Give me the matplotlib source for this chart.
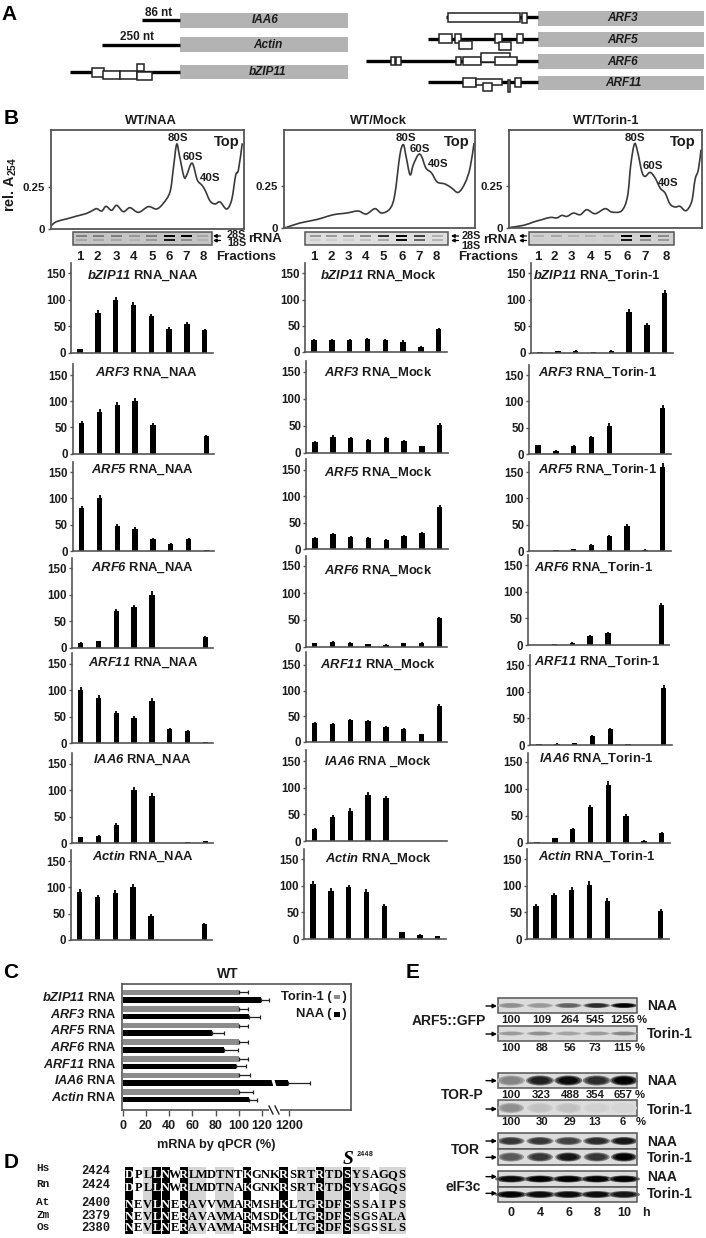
import numpy as np
import matplotlib
matplotlib.use("Agg")
import matplotlib.pyplot as plt
from matplotlib.patches import Rectangle, Ellipse, Polygon, PathPatch
from matplotlib.path import Path

plt.rcParams['font.family'] = ['Liberation Sans', 'DejaVu Sans']
plt.rcParams['font.weight'] = 'bold'
plt.rcParams['mathtext.fontset'] = 'custom'
plt.rcParams['mathtext.rm'] = 'Liberation Sans:bold'
plt.rcParams['mathtext.it'] = 'Liberation Sans:italic:bold'
plt.rcParams['mathtext.bf'] = 'Liberation Sans:bold'
plt.rcParams['mathtext.bfit'] = 'Liberation Sans:italic:bold'

W, H = 706, 1238
INK = "#1c1c1c"
LINE = "#555555"

# -------------------------------
# Panel B: polysome profiles (position along gradient in %, rel. A254)
# -------------------------------
naa_pos = [0, 2.9, 8.1, 13.3, 18.5, 21.9, 23.7, 26.3, 28.5, 31.4, 34, 37.5, 40.9, 45.3, 50.4, 54.7,
           58.2, 61.7, 63.4, 65.1, 66.5, 68.9, 70.3, 72.4, 73.7, 75.8, 78.1, 79.8, 82.4, 85, 87.6,
           91, 93.6, 95.7, 97.1, 99.1]
naa_a254 = [.02, .044, .06, .077, .093, .113, .121, .107, .135, .111, .141, .103, .127, .099, .133, .119,
            .153, .222, .361, .504, .44, .311, .321, .385, .381, .292, .262, .232, .167, .149, .161,
            .119, .173, .321, .351, .51]
mock_pos = [0, 1.4, 8.4, 17, 25.9, 32.8, 38.8, 43, 47.6, 51.1, 55.5, 58, 60.7, 62.5, 63.9, 66, 67.7,
            70.3, 72, 74.3, 77.3, 80.2, 84.3, 87.8, 91.3, 94.8, 97.4, 99.5]
mock_a254 = [.002, .004, .03, .05, .079, .089, .101, .083, .115, .089, .115, .198, .436, .496, .427, .317, .377,
             .436, .427, .357, .327, .274, .262, .238, .212, .268, .357, .506]
torin_pos = [0.7, 7.6, 12.8, 17.1, 21.4, 24.8, 27.4, 30, 33.4, 36.9, 40.3, 44.6, 49.8, 53.3, 58.4, 61.4,
             63.1, 65, 66.6, 68.8, 70.5, 73.1, 75.7, 78.3, 80.9, 83.4, 86, 88.6, 91.7, 94.7, 96.4, 98.1, 99.5]
torin_a254 = [.004, .016, .036, .05, .063, .06, .075, .069, .089, .079, .109, .085, .115, .095, .103, .188,
              .377, .5, .456, .337, .307, .331, .298, .238, .208, .143, .125, .129, .103, .159, .288, .347, .466]

# -------------------------------
# Panel B: fraction bars (% of max), one list per gene and treatment
# -------------------------------
genes = ["bZIP11", "ARF3", "ARF5", "ARF6", "ARF11", "IAA6", "Actin"]
fractions = [1, 2, 3, 4, 5, 6, 7, 8]

bzip11_naa = [7, 75, 100, 90, 70, 45, 55, 43]
arf3_naa = [59, 80, 93, 100, 55, 0, 0, 33]
arf5_naa = [81, 100, 48, 42, 23, 14, 23, 1.5]
arf6_naa = [10, 13, 70, 76, 100, 0.5, 0, 21]
arf11_naa = [100, 86, 57, 48, 80, 27, 22, 1]
iaa6_naa = [11, 14, 35, 100, 90, 0, 1, 3]
actin_naa = [91, 81, 89, 100, 46, 0.5, 0, 30]

bzip11_mock = [22, 23, 22, 25, 23, 20, 10, 43]
arf3_mock = [20, 30, 28, 23, 27, 21, 12, 52]
arf5_mock = [20, 29, 23, 20, 17, 25, 30, 80]
arf6_mock = [7, 10, 8, 5, 4, 7, 8, 53]
arf11_mock = [37, 35, 43, 40, 28, 25, 15, 70]
iaa6_mock = [22, 45, 57, 87, 80, 0, 0, 0]
actin_mock = [103, 90, 97, 88, 62, 13, 8, 5]

bzip11_torin = [0.5, 2, 3, 1, 3, 77, 52, 112]
arf3_torin = [17, 6, 16, 32, 54, 0, 0.5, 88]
arf5_torin = [0.5, 1, 3, 12, 28, 48, 2, 160]
arf6_torin = [0, 1, 4, 17, 23, 0, 0, 75]
arf11_torin = [1, 2, 3, 17, 30, 1, 0, 106]
iaa6_torin = [1, 8, 26, 66, 108, 50, 4, 18]
actin_torin = [62, 82, 92, 101, 72, 0, 0, 52]

naa_err = [[1, 5, 6, 6, 4, 3, 3, 3], [3, 5, 5, 6, 4, 0, 0, 2], [5, 6, 3, 3, 2, 1, 2, 0],
           [1, 1, 4, 5, 6, 0, 0, 2], [6, 5, 4, 3, 5, 2, 2, 0], [1, 1, 3, 6, 5, 0, 0, 1],
           [5, 5, 5, 6, 3, 0, 0, 2]]
mock_err = [[2, 2, 2, 2, 2, 2, 1, 3], [2, 2, 2, 2, 2, 2, 1, 3], [2, 2, 2, 2, 2, 2, 2, 4],
            [1, 1, 1, 1, 1, 1, 1, 3], [2, 2, 2, 2, 2, 2, 1, 4], [2, 3, 4, 5, 5, 0, 0, 0],
            [6, 5, 5, 5, 4, 1, 1, 1]]
torin_err = [[0, 1, 1, 0, 1, 5, 4, 7], [1, 1, 1, 2, 4, 0, 0, 5], [0, 0, 1, 1, 2, 3, 1, 8],
             [0, 0, 1, 2, 2, 0, 0, 4], [0, 1, 1, 2, 2, 1, 0, 6], [0, 1, 2, 4, 6, 3, 1, 2],
             [4, 5, 6, 7, 5, 0, 0, 4]]

naa_rows = [bzip11_naa, arf3_naa, arf5_naa, arf6_naa, arf11_naa, iaa6_naa, actin_naa]
mock_rows = [bzip11_mock, arf3_mock, arf5_mock, arf6_mock, arf11_mock, iaa6_mock, actin_mock]
torin_rows = [bzip11_torin, arf3_torin, arf5_torin, arf6_torin, arf11_torin, iaa6_torin, actin_torin]

# -------------------------------
# Panel C: mRNA by qPCR
# -------------------------------
c_genes = ["bZIP11", "ARF3", "ARF5", "ARF6", "ARF11", "IAA6", "Actin"]
c_torin = [100, 100, 100, 100, 100, 100, 100]
c_torin_err = [8, 8, 8, 8, 8, 10, 12]
c_naa = [119, 109, 77, 87, 98, 1190, 109]
c_naa_err = [7, 9, 10, 12, 8, 145, 7]
c_ticks = [0, 20, 40, 60, 80, 100, 120, 1200]

# -------------------------------
# Panel D: TOR alignment
# -------------------------------
species = ["Hs", "Rn", "At", "Zm", "Os"]
start_pos = ["2424", "2424", "2400", "2379", "2380"]
residues = ["DPLLNWRLMDTNTKGNKRSRTRTDSYSAGQS",
            "DPLLNWRLMDTNAKGNKRSRTRTDSYSAGQS",
            "NEVLNERAVVVMARMSHKLTGRDFSSSAIPS",
            "NEVLNERAVAVMARMSDKLTGRDFSSGSALA",
            "NEVLNERAVAVMARMSHKLTGRDFSSGSSLS"]
black_cols = [0, 3, 4, 6, 13, 17, 21, 24]
gray_cols = [2, 7, 8, 10, 11, 19, 20, 22, 23, 25, 26, 28, 29, 30]

# -------------------------------
# Panel E: blots
# -------------------------------
hours = [0, 4, 6, 8, 10]
arf5_naa_pct = ["100", "109", "264", "545", "1256"]
arf5_torin_pct = ["100", "88", "56", "73", "115"]
torp_naa_pct = ["100", "323", "488", "354", "657"]
torp_torin_pct = ["100", "30", "29", "13", "6"]
# darkness of each band, 0 (none) to 1 (black)
arf5_naa_band = [.35, .3, .55, .8, 1]
arf5_torin_band = [.3, .35, .25, .3, .4]
torp_naa_band = [.4, .85, .95, .8, 1]
torp_torin_band = [.35, .12, .12, .05, .03]
tor_naa_band = [.75, .75, .7, .8, .9]
tor_torin_band = [.6, .75, .9, .75, 1]
eif_naa_band = [.95, 1, 1, 1, 1]
eif_torin_band = [1, .95, .95, .95, .9]

fig = plt.figure(figsize=(W / 100, H / 100), dpi=100)
fig.patch.set_facecolor("white")


def add_px_axes(left, top, right, bottom, **kw):
    return fig.add_axes([left / W, 1 - bottom / H, (right - left) / W, (bottom - top) / H], **kw)


# overlay in image pixels for labels and schematics
px = fig.add_axes([0, 0, 1, 1], zorder=5)
px.set_xlim(0, W)
px.set_ylim(H, 0)
px.axis("off")


def label(x, y, s, size=8, ha="center", va="center", **kw):
    kw.setdefault("color", INK)
    kw.setdefault("fontweight", "bold")
    return px.text(x, y, s, fontsize=size, ha=ha, va=va, **kw)


def smooth_line(ax, xs, ys, color, lw):
    # bezier through the read points, no extra data points
    pts = np.column_stack([xs, ys])
    verts = [pts[0]]
    codes = [Path.MOVETO]
    for i in range(len(pts) - 1):
        p0 = pts[max(i - 1, 0)]
        p1 = pts[i]
        p2 = pts[i + 1]
        p3 = pts[min(i + 2, len(pts) - 1)]
        verts += [p1 + (p2 - p0) / 6, p2 - (p3 - p1) / 6, p2]
        codes += [Path.CURVE4, Path.CURVE4, Path.CURVE4]
    ax.add_patch(PathPatch(Path(verts, codes), fc="none", ec=color, lw=lw))


# panel letters
for lx, ly, letter in [(9, 14, "A"), (11, 118, "B"), (11, 972, "C"), (11, 1162, "D"), (413, 973, "E")]:
    label(lx, ly, letter, size=15, color="black")

# -------------------------------
# Panel A: gene models
# -------------------------------
px_gray = "#b3b3b3"
models = [
    ("IAA6", 179.5, 347.5, 12.7, 28, 20.3, 142, 265, []),
    ("Actin", 179.5, 347.5, 37.3, 52, 44.7, 102, 268, []),
    ("bZIP11", 179.5, 347.5, 65.3, 78.7, 72, 70, 268,
     [(92, 104, 67.7, 76.7), (103, 120, 70.7, 78.7), (120, 136.5, 70.7, 78.7), (136.5, 144, 64, 71), (136.5, 152, 72, 80)]),
    ("ARF3", 537.5, 703.5, 10.7, 26, 16.7, 446, 623,
     [(448, 519.5, 12.7, 22), (521.5, 527, 12.7, 22.7)]),
    ("ARF5", 537.5, 703.5, 32.3, 47, 39, 428, 623,
     [(439, 452, 34.3, 43.3), (455, 461, 34.3, 43.3), (458.5, 471.5, 40.7, 49.3), (494.5, 501.5, 34.3, 43.3),
      (499, 511, 41.7, 50), (516.5, 522.5, 34.3, 43.3)]),
    ("ARF6", 537.5, 703.5, 54.3, 69, 60.7, 366, 623,
     [(391, 394.5, 56.7, 65), (395.5, 401, 56.7, 65), (456, 461, 56.7, 65.3), (463, 481, 56.7, 65),
      (481, 510, 53.3, 62.3), (495, 517, 56.7, 65.3)]),
    ("ARF11", 537.5, 703.5, 76, 89.7, 82, 428, 623,
     [(463, 476, 78.3, 86.7), (476, 502, 79.3, 85), (483, 492, 83.3, 91.3), (508, 510, 80, 92), (515, 521, 78.3, 86.7)]),
]
for name, gx0, gx1, gy0, gy1, ly, lx0, tx, boxes in models:
    px.add_patch(Rectangle((gx0, gy0), gx1 - gx0, gy1 - gy0, fc=px_gray, ec="none"))
    px.plot([lx0, gx0], [ly, ly], color="black", lw=2.4, solid_capstyle="butt")
    for x0, x1, y0, y1 in boxes:
        px.add_patch(Rectangle((x0, y0), x1 - x0, y1 - y0, fc="white", ec="#222222", lw=1.1, zorder=3))
    label(tx, (gy0 + gy1) / 2, name, size=8.5, style="italic")
label(158.6, 13, "86 nt", size=8.5)
label(137.4, 36.7, "250 nt", size=8.5)

# -------------------------------
# Panel B: profiles
# -------------------------------
prof_rects = [(51, 130, 244, 229), (284, 130, 475, 228), (509, 130, 702, 228)]
prof_traces = [(naa_pos, naa_a254), (mock_pos, mock_a254), (torin_pos, torin_a254)]
for (l, t, r, b), (xs, ys) in zip(prof_rects, prof_traces):
    ax = add_px_axes(l, t, r, b)
    smooth_line(ax, xs, ys, "#3a3a3a", 1.2)
    ax.set_xlim(0, 100)
    ax.set_ylim(0, (b - t) / 42 * 0.25)
    ax.set_xticks([])
    ax.set_yticks([0, 0.25])
    ax.set_yticklabels(["0", "0.25"], fontsize=8.2, color=INK)
    ax.tick_params(axis="y", length=2, width=1, color=LINE, pad=2.5)
    for s in ax.spines.values():
        s.set_color(LINE)
        s.set_linewidth(1.3)
label(10.5, 185, "rel. A$_{254}$", size=10.4, rotation=90)
for cx, s in [(151, "WT/NAA"), (378, "WT/Mock"), (606, "WT/Torin-1")]:
    label(cx, 120.5, s, size=9.4)
for x80, y80, x60, y60, x40, y40, xtop in [(178, 138, 193, 157, 210, 178, 227), (405.7, 138, 420, 149, 438, 164, 457),
                                             (635, 138, 653, 166, 668, 183, 683)]:
    label(x80, y80, "80S", size=8.2)
    label(x60, y60, "60S", size=8.2)
    label(x40, y40, "40S", size=8.2)
    label(xtop, 142, "Top", size=10.5)

# gels
gel_rects = [(72.7, 212), (305, 447.7), (529, 674)]
gel_lanes = [[81.7, 98, 116, 134, 151.7, 169, 186, 202.7],
             [315, 331.7, 348.3, 365.7, 383, 401.7, 419, 437],
             [538, 556, 573, 590.7, 608, 626, 645, 663]]
gel_upper = [[.5, .5, .5, .4, .5, 1, 1, .35], [.4, .4, .4, .45, .8, 1, .75, .3], [.3, .35, .3, .3, .3, 1, 1, .45]]
gel_lower = [[.35, .35, .35, .3, .4, .9, .45, .3], [.2, .2, .2, .25, .35, .95, .6, .3], [.2, .2, .2, .2, .2, .9, .45, .4]]
for (x0, x1), lanes, up, lo, bg in zip(gel_rects, gel_lanes, gel_upper, gel_lower, ["#c4c4c4", "#dedede", "#d0d0d0"]):
    px.add_patch(Rectangle((x0, 231.5), x1 - x0, 13.5, fc=bg, ec=LINE, lw=1.1))
    for lx, u, d in zip(lanes, up, lo):
        px.add_patch(Rectangle((lx - 5.5, 234.8), 11, 2.6, fc=str(1 - u), ec="none"))
        px.add_patch(Rectangle((lx - 5.5, 238.8), 11, 2.6, fc=str(1 - d), ec="none"))
for ax_x in (217, 455, 523):
    for ay in (236, 240.5):
        px.annotate("", xy=(ax_x - 4, ay), xytext=(ax_x + 3.5, ay),
                    arrowprops=dict(arrowstyle="-|>", lw=0.9, color="black", mutation_scale=5, shrinkA=0, shrinkB=0))
label(236.7, 234.5, "28S", size=7.8)
label(236.7, 243, "18S", size=7.8)
label(265, 239, "rRNA", size=9.5)
label(471, 236, "28S", size=7.8)
label(471, 246, "18S", size=7.8)
label(500, 240, "rRNA", size=9.5)
frac_x = [[80, 97.3, 116.7, 134, 152.7, 169, 186, 203],
          [314, 330.7, 348.3, 365, 383.3, 401.7, 419.3, 436.7],
          [537.7, 554.3, 571, 590.7, 607.3, 627.3, 645, 666]]
for xs in frac_x:
    for fx, f in zip(xs, fractions):
        label(fx, 257, str(f), size=9.5)
label(246, 257, "Fractions", size=9.6)
label(487.7, 257, "Fractions", size=9.6)

# -------------------------------
# Panel B: bar panels
# -------------------------------
panel_left = [[71, 305, 531], [72.7, 306, 529], [72.7, 306, 529], [71.7, 305.7, 527.7],
              [71.7, 305.7, 530], [71.7, 305.7, 528], [70.7, 304, 527]]
panel_top = [[263, 263, 263], [364, 361, 365], [462, 459, 462], [558, 556, 555],
             [653, 652, 655], [753, 750, 753], [850, 849, 849]]
panel_tick150 = [[273.3, 273.3, 273.3], [375, 372, 375], [472, 470, 472], [568, 566, 565],
                 [664, 665, 665], [764, 761, 762], [861, 859, 859]]
panel_base = [[353, 352, 352.5], [453.7, 452.7, 454], [551, 549, 551], [648, 647, 645],
              [743, 741.7, 745], [843, 841, 842.7], [940, 939, 939]]
title_x = [[143, 378, 597], [147, 378, 597], [143, 378, 597], [143, 378, 593],
           [143, 378, 597], [142, 378, 596], [143, 378, 597]]
title_y = [[276, 276, 276], [373, 373, 373], [470, 473, 470], [568, 571, 568],
           [663, 665, 662], [760, 762, 759], [857, 859, 857]]
suffix = ["NAA", "Mock", "Torin-1"]
treat_rows = [naa_rows, mock_rows, torin_rows]
treat_errs = [naa_err, mock_err, torin_err]
spacing = 17.8

for r, gene in enumerate(genes):
    for c in range(3):
        l, t, b, t150 = panel_left[r][c], panel_top[r][c], panel_base[r][c], panel_tick150[r][c]
        rgt = l + 141.5
        ax = add_px_axes(l, t, rgt, b)
        ax.patch.set_alpha(0)
        vals = treat_rows[c][r]
        errs = treat_errs[c][r]
        ax.bar(fractions, vals, width=5.4 / spacing, color="black", lw=0)
        ax.errorbar(fractions, vals, yerr=[np.zeros(8), errs], fmt="none", ecolor="black",
                    elinewidth=1.3, capsize=0)
        x0 = 1 - 9 / spacing
        ax.set_xlim(x0, x0 + (rgt - l) / spacing)
        ax.set_ylim(0, (b - t) / (b - t150) * 150)
        ax.set_xticks([])
        ax.set_yticks([0, 50, 100, 150])
        ax.tick_params(axis="y", length=2, width=1, color=LINE, pad=1.5, labelsize=8.3, labelcolor=INK)
        ax.spines["top"].set_visible(False)
        ax.spines["right"].set_visible(False)
        ax.spines["left"].set_color(LINE)
        ax.spines["bottom"].set_color(LINE)
        ax.spines["left"].set_linewidth(1.2)
        ax.spines["bottom"].set_linewidth(1.2)
        sep = " _" if (gene == "IAA6" and c == 1) else "_"
        label(title_x[r][c], title_y[r][c], f"$\\mathbfit{{{gene}}}$ RNA{sep}{suffix[c]}", size=9.4)

# -------------------------------
# Panel C
# -------------------------------
def c_forward(v):
    return np.interp(v, [-100, 130, 1100, 1700], [-100, 130, 130.5, 209.7])


def c_inverse(p):
    return np.interp(p, [-100, 130, 130.5, 209.7], [-100, 130, 1100, 1700])


axc = add_px_axes(121.7, 984, 351, 1110)
ypos = np.arange(len(c_genes))
axc.barh(ypos - 0.23, c_torin, height=0.33, color="#8c8c8c", lw=0)
axc.barh(ypos + 0.23, c_naa, height=0.33, color="black", lw=0)
axc.errorbar(c_torin, ypos - 0.23, xerr=[np.zeros(7), c_torin_err], fmt="none", ecolor="#222222",
             elinewidth=0.9, capsize=1.5, capthick=0.9)
axc.errorbar(c_naa, ypos + 0.23, xerr=[np.zeros(7), c_naa_err], fmt="none", ecolor="#222222",
             elinewidth=0.9, capsize=1.5, capthick=0.9)
axc.set_xscale("function", functions=(c_forward, c_inverse))
axc.set_xlim(-1, 1602)
axc.set_ylim(6.855, -0.735)
axc.set_xticks(c_ticks)
axc.set_xticklabels([str(v) for v in c_ticks], fontsize=9, color=INK)
axc.minorticks_off()
axc.tick_params(axis="x", length=4, width=1, color=LINE, pad=3)
axc.set_yticks(ypos)
axc.set_yticklabels([f"$\\mathbfit{{{g}}}$ RNA" for g in c_genes], fontsize=9.2, color=INK)
axc.tick_params(axis="y", length=0, pad=4)
for s in axc.spines.values():
    s.set_color(LINE)
    s.set_linewidth(1.2)
label(228, 974, "WT", size=10)
label(216.7, 1145, "mRNA by qPCR (%)", size=9.2)
label(347, 996.7, "Torin-1 (   )", size=9.4, ha="right")
label(347, 1014, "NAA (   )", size=9.4, ha="right")
px.add_patch(Rectangle((333.5, 994.5), 6, 4.5, fc="#8c8c8c", ec="none"))
px.add_patch(Rectangle((333.5, 1012), 6, 4.5, fc="black", ec="none"))
# axis break
px.add_patch(Polygon([(271, 1078), (274, 1078), (276.5, 1087), (273.5, 1087)], fc="white", ec="none", zorder=6))
px.add_patch(Rectangle((269, 1108), 11, 4, fc="white", ec="none", zorder=6))
px.plot([269, 273], [1106, 1114], color="#222222", lw=1, zorder=7)
px.plot([275, 279], [1106, 1114], color="#222222", lw=1, zorder=7)

# -------------------------------
# Panel D
# -------------------------------
res_y = [1175, 1187.7, 1205, 1217.3, 1228.3]
sp_y = [1168, 1184, 1201.7, 1215, 1226.7]
cell = 9.07
x_first = 129.3
for i in gray_cols:
    px.add_patch(Rectangle((x_first + cell * i - cell / 2, 1167), cell, 67, fc="#d6d6d6", ec="none"))
for i in black_cols:
    px.add_patch(Rectangle((x_first + cell * i - cell / 2 + 0.5, 1167), cell - 1, 67, fc="black", ec="none"))
for seq, y in zip(residues, res_y):
    for i, aa in enumerate(seq):
        label(x_first + cell * i, y, aa, size=9, family="Liberation Serif",
              color="white" if i in black_cols else "black")
for name, num, y in zip(species, start_pos, sp_y):
    label(43, y, name, size=8, family="Liberation Mono")
    label(95.7, y + (2.7 if name == "Hs" else 1), num, size=8.7, family="Liberation Mono")
label(348, 1160, "S", size=14, family="Liberation Serif", style="italic", color="black")
label(365, 1154, "2448", size=5, family="Liberation Mono")

# -------------------------------
# Panel E
# -------------------------------
lane_x = [511, 540, 568.3, 596.7, 624]
strips = [(998, 1013, arf5_naa_band, 138, 4, 25), (1026, 1041, arf5_torin_band, 222, 3, 25),
          (1073, 1088, torp_naa_band, 362, 9, 26), (1100, 1116, torp_torin_band, 447, 9, 24),
          (1133, 1149, tor_naa_band, 543, 7, 25), (1149, 1165, tor_torin_band, 592, 8, 24),
          (1171, 1187, eif_naa_band, 650, 6, 30), (1187, 1202, eif_torin_band, 700, 6, 30)]
for y0, y1, bands, arrow_z, hgt, wid in strips:
    px.add_patch(Rectangle((497.7, y0), 139.6, y1 - y0, fc="#dcdcdc", ec=LINE, lw=1.1, zorder=2))
    ym = (y0 + y1) / 2
    for lx, d in zip(lane_x, bands):
        for scale, frac in [(1.0, 0.5), (0.85, 0.8), (0.65, 1.0)]:
            g = 0.86 - 0.86 * d * frac
            px.add_patch(Ellipse((lx, ym), wid * scale + 2, hgt * scale + 1, fc=str(g), ec="none", zorder=3))
    ay = arrow_z / 3 + 960
    px.annotate("", xy=(497, ay), xytext=(486, ay),
                arrowprops=dict(arrowstyle="-|>", lw=1, color="black", mutation_scale=6, shrinkA=0, shrinkB=0))
    is_naa = bands in (arf5_naa_band, torp_naa_band, tor_naa_band, eif_naa_band)
    label(646.7, ay + 0.5, "NAA" if is_naa else "Torin-1", size=10, ha="left")

pct_rows = [(1020, arf5_naa_pct, 642), (1048, arf5_torin_pct, 640), (1095, torp_naa_pct, 640), (1122, torp_torin_pct, 641)]
pct_x = [511, 541.7, 570, 595, 623]
for y, row, pc_x in pct_rows:
    for x, s in zip(pct_x, row):
        if len(s) == 4:
            label(x, y, s, size=8)
        else:
            label(x, y, s, size=8.2)
    label(pc_x, y, "%", size=8.2)
label(449, 1021, "ARF5::GFP", size=10)
label(462.7, 1095, "TOR-P", size=10)
label(465.7, 1150, "TOR", size=10)
label(463, 1186.7, "eIF3c", size=10)
for x, h in zip([511, 540.7, 569, 597.3, 624], hours):
    label(x, 1213, str(h), size=9)
label(645.7, 1213, "h", size=9)

plt.savefig("out.png", dpi=100, facecolor="white")
